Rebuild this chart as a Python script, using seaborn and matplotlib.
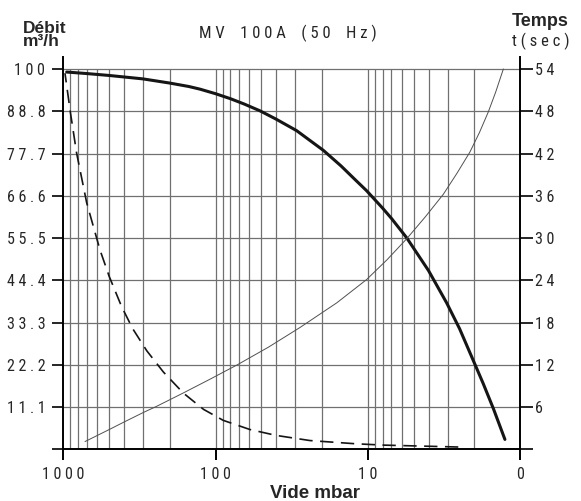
import matplotlib
matplotlib.use("Agg")
import matplotlib.pyplot as plt
import matplotlib.ticker as mticker
import seaborn as sns

# ---- data ----
flow_vac = [950, 700, 500, 300, 200, 150, 126.6, 100, 80, 65, 51.1, 40, 29.4, 19.6, 15, 12.2, 10.2,
            8, 7, 5.56, 4, 3.04, 2.5, 2.03, 1.75, 1.5, 1.26]
flow_q = [99.2, 98.8, 98.3, 97.4, 96.3, 95.4, 94.7, 93.5, 92.2, 90.8, 89.0, 86.8, 83.8, 78.6, 74.5, 71.0, 68.0,
          63.4, 60.7, 55.6, 47.0, 38.5, 31.7, 23.3, 17.3, 10.7, 2.6]

time_vac = [720, 500, 414, 300, 244, 163, 110, 72, 45, 27.9, 16, 10.2, 7.5, 5.56, 4.2, 3.2,
            2.6, 2.14, 1.85, 1.62, 1.45, 1.29]
time_t = [1.1, 2.8, 3.7, 5.2, 6.1, 8.0, 9.9, 12.0, 14.5, 17.3, 20.8, 24.1, 26.9, 29.9, 33.0, 36.2,
          39.2, 42.2, 45.0, 47.9, 50.7, 54.0]

dash_vac = [975, 900, 817, 702, 574, 500, 414, 350, 283, 220, 163, 120, 89, 59.5, 40, 24.0,
            19.6, 12, 7.9, 4, 2.55]
dash_q = [98.9, 88.8, 77.8, 64.8, 52.4, 45.5, 37.5, 31.7, 25.9, 20.3, 14.8, 10.5, 7.6, 5.2, 3.65, 2.3,
          2.05, 1.45, 1.1, 0.8, 0.6]

x_ticks = [1000, 100, 10, 1]
x_labels = ["1000", "100", "10", "0"]
left_ticks = [100 * k / 9 for k in range(10)]
left_labels = ["", "11.1", "22.2", "33.3", "44.4", "55.5", "66.6", "77.7", "88.8", "100"]
right_ticks = [6 * k for k in range(10)]
right_labels = ["", "6", "12", "18", "24", "30", "36", "42", "48", "54"]

title = "MV 100A (50 Hz)"
left_title = ["Débit", "m³/h"]
right_title = ["Temps", "t(sec)"]
x_title = "Vide mbar"

# ---- styling ----
sns.set_style("ticks")
NARROW = ["Liberation Sans Narrow", "DejaVu Sans Condensed", "Roboto Condensed", "DejaVu Sans"]
BOLD = ["Liberation Sans", "DejaVu Sans"]
plt.rcParams["font.family"] = NARROW


def spaced(s):
    return " ".join(list(s))


W, H = 581, 501
fig = plt.figure(figsize=(W / 100, H / 100), dpi=100)
x0, x1 = 63.3, 520.2
y0, y100, ytop_px = 449.3, 69.0, 57.0
ax = fig.add_axes([x0 / W, (H - y0) / H, (x1 - x0) / W, (y0 - ytop_px) / H])
ytop = 100 * (y0 - ytop_px) / (y0 - y100)

ax.set_xscale("log")
ax.set_xlim(1000, 1)
ax.set_ylim(0, ytop)

# grid
grid_col = "#707070"
minor_x = [m * 10 ** k for k in range(0, 3) for m in range(2, 10)]
ax.vlines(minor_x + [100, 10], 0, 100, color=grid_col, lw=0.9, zorder=1)
ax.hlines(left_ticks[1:], 1000, 1, color=grid_col, lw=0.9, zorder=1)

# curves
sns.lineplot(x=flow_vac, y=flow_q, ax=ax, color="#151515", lw=2.2, zorder=3)
sns.lineplot(x=dash_vac, y=dash_q, ax=ax, color="#151515", lw=1.2, zorder=3)
ax.lines[-1].set_dashes([8, 4.5])

ax2 = ax.twinx()
ax2.set_ylim(0, 54 * ytop / 100)
sns.lineplot(x=time_vac, y=time_t, ax=ax2, color="#505050", lw=0.7, zorder=3)
ax2.set_xlim(1000, 1)

# spines
for sp in ["top", "right"]:
    ax.spines[sp].set_visible(False)
for sp in ["top", "left", "bottom"]:
    ax2.spines[sp].set_visible(False)
for a, sps in ((ax, ["left", "bottom"]), (ax2, ["right"])):
    for sp in sps:
        a.spines[sp].set_linewidth(1.4)
        a.spines[sp].set_color("black")

tick_font = dict(family=NARROW, size=11.5)
ax.set_xticks(x_ticks)
ax.set_xticklabels([spaced(s) for s in x_labels], **tick_font)
ax.xaxis.set_minor_locator(mticker.NullLocator())
ax.set_yticks(left_ticks)
ax.set_yticklabels([spaced(s) for s in left_labels], **tick_font)
ax2.set_yticks(right_ticks)
ax2.set_yticklabels([spaced(s) for s in right_labels], **tick_font)
ax2.yaxis.set_minor_locator(mticker.NullLocator())

ax.tick_params(axis="x", direction="out", length=8, width=1.4, pad=5, color="black")
ax.tick_params(axis="y", direction="out", length=8, width=1.2, pad=5, color="black")
ax2.tick_params(axis="y", direction="out", length=9, width=1.2, pad=1.5, color="black")
ax.set_xlabel("")
ax.set_ylabel("")
ax2.set_ylabel("")


# texts
def ftext(px, py, s, **kw):
    fig.text(px / W, 1 - py / H, s, **kw)


ftext(288, 33, spaced(title).replace("   ", "    "), ha="center", va="center",
      family=NARROW, size=12)
ftext(23, 46.5, "\n".join(left_title), ha="left", va="baseline", family=BOLD,
      weight="bold", size=12.5, linespacing=0.86, ma="left")
ftext(512, 26, right_title[0], ha="left", va="baseline", family=BOLD, weight="bold", size=13)
ftext(541, 46.5, spaced(right_title[1]), ha="center", va="baseline", family=NARROW, size=12)
ftext(315, 498, x_title, ha="center", va="baseline", family=BOLD, weight="bold", size=13.5)

fig.savefig("out.png", dpi=100, facecolor="white")
